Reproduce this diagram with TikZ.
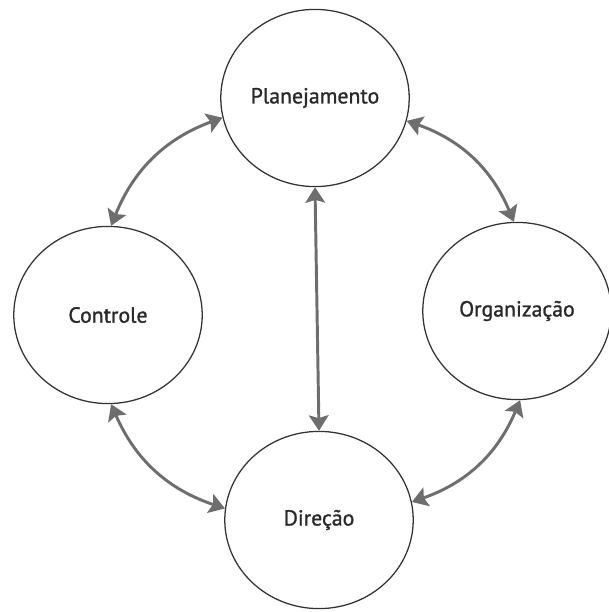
\documentclass[tikz,border=0pt]{standalone}
\usepackage{fontspec}
\setmainfont{PT Sans}[FakeBold=1.2]
\usepackage{tikz}
\definecolor{MyLine}{HTML}{333333}
\definecolor{MyText}{HTML}{2A2A2A}
\definecolor{MyArrow}{HTML}{6E6E6E}
\usetikzlibrary{arrows.meta,shapes.geometric,positioning}
\tikzset{%
  link/.style={{Stealth[length=11pt,width=14pt,inset=2pt]}-{Stealth[length=11pt,width=14pt,inset=2pt]},line width=2.1pt,draw=MyArrow,bend left=24},
  func/.style={ellipse,draw=MyLine,line width=0.9pt,minimum width=134pt,minimum height=126pt,inner sep=0pt,align=center,font=\fontsize{15.5}{18}\selectfont,text=MyText}
}
\begin{document}
\begin{tikzpicture}[x=0.025cm,y=-0.025cm]

 \useasboundingbox (0,0) rectangle (608,612);

 \node[func] (plan) at (315,98) {Planejamento};
 \node[func] (ctrl) at (108,315) {Controle};
 \node[func] (org) at (517,311) {Organização};
 \node[func] (dir) at (319,520) {Direção};

 \draw[link] (ctrl.88) to (plan.192);
 \draw[link] (plan.-14) to (org.92);
 \draw[link] (org.-88) to (dir.11);
 \draw[link] (dir.173) to (ctrl.-88);
 \draw[link,bend left=0] (plan.south) to (dir.north);

\end{tikzpicture}
\end{document}
